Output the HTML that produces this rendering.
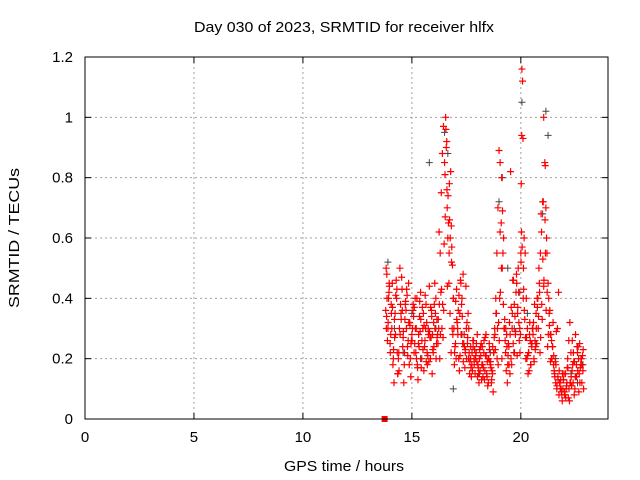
<!DOCTYPE html>
<html><head><meta charset="utf-8"><style>
body{margin:0;background:#fff}
svg{display:block;font-family:"Liberation Sans",sans-serif}
</style></head><body>
<svg id="chart" width="640" height="480" viewBox="0 0 640 480">
<rect width="640" height="480" fill="#fff"/>
<text x="344" y="32" font-size="15" text-anchor="middle" textLength="300" lengthAdjust="spacingAndGlyphs">Day 030 of 2023, SRMTID for receiver hlfx</text>
<g id="grid"></g>
<g id="ticks"></g>
<g id="black"></g>
<g id="red"></g>
<rect x="85" y="57" width="523" height="362" fill="none" stroke="#000" stroke-width="1"/>
<text x="344" y="471" font-size="15" text-anchor="middle" textLength="120" lengthAdjust="spacingAndGlyphs">GPS time / hours</text>
<text transform="translate(19,238) rotate(-90)" font-size="15" text-anchor="middle" textLength="140" lengthAdjust="spacingAndGlyphs">SRMTID / TECUs</text>
</svg>
<script>
const xTicks=[0,5,10,15,20];
const yTicks=[0,0.2,0.4,0.6,0.8,1,1.2];
const yTickLabels=["0","0.2","0.4","0.6","0.8","1","1.2"];
const redX=[13.8,13.85,13.9,13.95,14.0,14.05,14.1,14.15,14.2,14.25,14.3,14.35,14.4,14.45,14.5,14.55,14.6,14.65,14.7,14.75,14.8,14.85,14.9,14.95,15.0,15.05,15.1,15.15,15.2,15.25,15.3,15.35,15.4,15.45,15.5,15.55,15.6,15.65,15.7,15.75,15.8,15.85,15.9,15.95,16.0,16.05,16.1,16.15,16.2,16.25,16.3,16.35,16.4,16.45,16.5,16.55,16.6,16.65,16.7,16.75,16.8,16.85,16.9,16.95,17.0,17.05,17.1,17.15,17.2,17.25,17.3,17.35,17.4,17.45,17.5,17.55,17.6,17.65,17.7,17.75,17.8,17.85,17.9,17.95,18.0,18.05,18.1,18.15,18.2,18.25,18.3,18.35,18.4,18.45,18.5,18.55,18.6,18.65,18.7,18.75,18.8,18.85,18.9,18.95,19.0,19.05,19.1,19.15,19.2,19.25,19.3,19.35,19.4,19.45,19.5,19.55,19.6,19.65,19.7,19.75,19.8,19.85,19.9,19.95,20.0,20.02,20.05,20.08,20.1,20.15,20.2,20.25,20.3,20.35,20.4,20.45,20.5,20.55,20.6,20.65,20.7,20.75,20.8,20.85,20.9,20.95,21.0,21.05,21.1,21.15,21.2,21.25,21.3,21.35,21.4,21.45,21.5,21.55,21.6,21.65,21.7,21.75,21.8,21.85,21.9,21.95,22.0,22.05,22.1,22.15,22.2,22.25,22.3,22.35,22.4,22.45,22.5,22.55,22.6,22.65,22.7,22.75,22.8,22.85,
13.82,13.88,13.97,14.08,14.18,14.28,14.38,14.48,14.58,14.68,14.78,14.88,14.98,15.08,15.18,15.28,15.38,15.48,15.58,15.68,15.78,15.88,15.98,16.08,16.18,16.28,16.38,16.48,16.52,16.58,16.62,16.68,16.72,16.78,16.82,16.88,16.98,17.08,17.18,17.28,17.38,17.48,17.58,17.68,17.78,17.88,17.98,18.08,18.18,18.28,18.38,18.48,18.58,18.68,18.78,18.88,18.98,19.05,19.12,19.18,19.28,19.38,19.48,19.58,19.68,19.78,19.88,19.98,20.04,20.12,20.18,20.28,20.38,20.48,20.58,20.68,20.78,20.88,20.98,21.05,21.12,21.18,21.28,21.38,21.48,21.58,21.68,21.78,21.88,21.98,22.08,22.18,22.28,22.38,22.48,22.58,22.68,22.78,22.88,
13.84,13.93,14.03,14.13,14.23,14.33,14.43,14.53,14.63,14.73,14.83,14.93,15.03,15.13,15.23,15.33,15.43,15.53,15.63,15.73,15.83,15.93,16.03,16.13,16.23,16.33,16.43,16.53,16.63,16.73,16.83,16.93,17.03,17.13,17.23,17.33,17.43,17.53,17.63,17.73,17.83,17.93,18.03,18.13,18.23,18.33,18.43,18.53,18.63,18.73,18.83,18.93,19.03,19.13,19.23,19.33,19.43,19.53,19.63,19.73,19.83,19.93,20.03,20.13,20.23,20.33,20.43,20.53,20.63,20.73,20.83,20.93,21.03,21.13,21.23,21.33,21.43,21.53,21.63,21.73,21.83,21.93,22.03,22.13,22.23,22.33,22.43,22.53,22.63,22.73,22.83,
13.86,13.91,14.01,14.11,14.21,14.31,14.41,14.51,14.61,14.71,14.81,14.91,15.01,15.11,15.21,15.31,15.41,15.51,15.61,15.71,15.81,15.91,16.01,16.11,16.21,16.31,16.41,16.56,16.66,16.76,16.86,16.96,17.06,17.16,17.26,17.36,17.46,17.56,17.66,17.76,17.86,17.96,18.06,18.16,18.26,18.36,18.46,18.56,18.66,18.76,18.86,18.96,19.06,19.16,19.26,19.36,19.46,19.56,19.66,19.76,19.86,19.96,20.06,20.16,20.26,20.36,20.46,20.56,20.66,20.76,20.86,20.96,21.06,21.16,21.26,21.36,21.46,21.56,21.66,21.76,21.86,21.96,22.06,22.16,22.26,22.36,22.46,22.56,22.66,22.76,22.86,
13.83,13.96,14.06,14.16,14.26,14.36,14.46,14.56,14.66,14.76,14.86,14.96,15.06,15.16,15.26,15.36,15.46,15.56,15.66,15.76,15.86,15.96,16.06,16.16,16.26,16.36,16.46,16.61,16.71,16.81,16.91,17.01,17.11,17.21,17.31,17.41,17.51,17.61,17.71,17.81,17.91,18.01,18.11,18.21,18.31,18.41,18.51,18.61,18.71,18.81,18.91,19.01,19.11,19.21,19.31,19.41,19.51,19.61,19.71,19.81,19.91,20.01,20.11,20.21,20.31,20.41,20.51,20.61,20.71,20.81,20.91,21.01,21.11,21.21,21.31,21.41,21.51,21.61,21.71,21.81,21.91,22.01,22.11,22.21,22.31,22.41,22.51,22.61,22.71,22.81];
const redY=[0.36,0.48,0.3,0.42,0.25,0.38,0.45,0.2,0.33,0.28,0.4,0.15,0.22,0.5,0.35,0.43,0.27,0.18,0.38,0.3,0.24,0.45,0.32,0.14,0.28,0.36,0.22,0.4,0.3,0.18,0.25,0.34,0.42,0.2,0.3,0.16,0.26,0.38,0.22,0.3,0.44,0.2,0.36,0.28,0.32,0.45,0.4,0.33,0.25,0.62,0.55,0.75,0.88,0.97,0.85,1.0,0.92,0.6,0.45,0.35,0.22,0.3,0.4,0.18,0.25,0.43,0.3,0.2,0.35,0.45,0.4,0.48,0.28,0.22,0.3,0.25,0.2,0.15,0.24,0.18,0.26,0.2,0.15,0.22,0.28,0.17,0.2,0.24,0.13,0.18,0.22,0.16,0.28,0.14,0.2,0.25,0.18,0.12,0.15,0.22,0.3,0.4,0.55,0.7,0.89,0.85,0.65,0.5,0.38,0.3,0.22,0.28,0.18,0.24,0.15,0.2,0.3,0.25,0.38,0.28,0.48,0.35,0.42,0.3,0.55,0.78,1.16,1.12,0.93,0.6,0.55,0.4,0.3,0.22,0.28,0.18,0.24,0.3,0.2,0.26,0.35,0.4,0.3,0.45,0.55,0.62,0.72,1.0,0.85,0.7,0.55,0.45,0.35,0.28,0.2,0.24,0.18,0.15,0.12,0.1,0.14,0.08,0.12,0.1,0.06,0.13,0.09,0.15,0.11,0.2,0.26,0.32,0.22,0.16,0.12,0.08,0.14,0.18,0.22,0.2,0.25,0.18,0.12,0.16,
0.5,0.26,0.44,0.3,0.12,0.46,0.2,0.38,0.24,0.33,0.41,0.18,0.26,0.34,0.22,0.13,0.29,0.37,0.24,0.32,0.19,0.27,0.22,0.35,0.28,0.2,0.3,0.58,0.81,0.9,0.7,0.65,0.78,0.82,0.52,0.28,0.24,0.32,0.16,0.38,0.25,0.44,0.35,0.2,0.16,0.23,0.19,0.12,0.25,0.17,0.21,0.11,0.19,0.16,0.27,0.35,0.32,0.62,0.8,0.55,0.26,0.12,0.32,0.18,0.22,0.42,0.5,0.28,0.94,0.5,0.33,0.2,0.16,0.25,0.32,0.24,0.4,0.22,0.33,0.44,0.84,0.6,0.4,0.28,0.32,0.19,0.3,0.12,0.08,0.15,0.1,0.07,0.12,0.18,0.1,0.24,0.15,0.2,0.1,
0.34,0.4,0.28,0.18,0.35,0.22,0.3,0.47,0.12,0.36,0.26,0.2,0.3,0.25,0.4,0.24,0.17,0.35,0.3,0.21,0.27,0.15,0.38,0.25,0.3,0.42,0.27,0.67,0.44,0.66,0.57,0.3,0.2,0.36,0.46,0.25,0.17,0.32,0.22,0.14,0.26,0.21,0.18,0.16,0.24,0.13,0.15,0.2,0.17,0.09,0.23,0.3,0.4,0.2,0.3,0.16,0.25,0.82,0.46,0.34,0.21,0.26,0.62,0.43,0.2,0.15,0.26,0.3,0.38,0.25,0.5,0.68,0.72,0.55,0.24,0.36,0.2,0.16,0.29,0.42,0.13,0.1,0.08,0.17,0.06,0.11,0.19,0.14,0.24,0.17,0.21,
0.4,0.32,0.22,0.37,0.27,0.43,0.16,0.33,0.29,0.39,0.21,0.31,0.26,0.37,0.2,0.28,0.33,0.23,0.41,0.18,0.29,0.34,0.24,0.2,0.33,0.28,0.38,0.96,0.74,0.6,0.51,0.22,0.33,0.41,0.28,0.19,0.23,0.27,0.19,0.22,0.18,0.25,0.15,0.21,0.14,0.27,0.19,0.23,0.13,0.22,0.35,0.18,0.42,0.69,0.33,0.24,0.18,0.37,0.46,0.29,0.37,0.22,0.57,0.36,0.27,0.22,0.18,0.28,0.23,0.37,0.42,0.38,0.46,0.36,0.28,0.19,0.24,0.14,0.11,0.16,0.09,0.13,0.07,0.17,0.12,0.26,0.19,0.14,0.09,0.2,0.23,
0.3,0.45,0.35,0.23,0.41,0.15,0.28,0.36,0.22,0.43,0.32,0.25,0.38,0.3,0.17,0.39,0.26,0.31,0.19,0.28,0.37,0.23,0.3,0.27,0.38,0.43,0.36,0.76,0.55,0.64,0.4,0.39,0.28,0.21,0.34,0.24,0.2,0.3,0.17,0.24,0.2,0.14,0.23,0.18,0.26,0.21,0.12,0.19,0.24,0.28,0.2,0.26,0.5,0.6,0.3,0.21,0.28,0.35,0.22,0.45,0.32,0.52,0.4,0.27,0.21,0.32,0.25,0.19,0.3,0.34,0.27,0.53,0.66,0.42,0.31,0.26,0.21,0.18,0.13,0.1,0.15,0.08,0.12,0.1,0.14,0.22,0.28,0.16,0.12,0.18];
const blackX=[13.9,14.2,14.6,15.0,15.4,15.8,16.1,16.5,16.65,16.9,17.3,17.7,18.1,18.6,19.0,19.15,19.4,19.7,19.95,20.05,20.3,20.7,21.0,21.15,21.25,21.6,22.0,22.3,22.6,22.85];
const blackY=[0.52,0.3,0.22,0.35,0.2,0.85,0.3,0.95,0.88,0.1,0.28,0.2,0.15,0.22,0.72,0.8,0.5,0.3,0.42,1.05,0.35,0.25,0.68,1.02,0.94,0.2,0.08,0.15,0.12,0.18];
const squareX=[13.75];
const squareY=[0];
const NS="http://www.w3.org/2000/svg";
const X0=85,X1=608,XMAX=24,Y0=419,Y1=57,YMAX=1.2;
function sx(v){return X0+(X1-X0)*v/XMAX;}
function sy(v){return Y0-(Y0-Y1)*v/YMAX;}
function mk(tag,attrs,parent){const e=document.createElementNS(NS,tag);for(const k in attrs)e.setAttribute(k,attrs[k]);parent.appendChild(e);return e;}
const grid=document.getElementById('grid'),ticks=document.getElementById('ticks');
xTicks.forEach((t,i)=>{
  const x=sx(t);
  if(t>0){const g=mk('line',{x1:x,x2:x,y1:Y1,y2:Y0,stroke:'#a0a0a0','stroke-dasharray':'2,3'},grid);
  
  }
  mk('line',{x1:x,x2:x,y1:Y0,y2:Y0-6,stroke:'#000'},ticks);
  mk('line',{x1:x,x2:x,y1:Y1,y2:Y1+6,stroke:'#000'},ticks);
  const l=mk('text',{x:x,y:442,'font-size':15,'text-anchor':'middle'},ticks);
  l.textContent=String(t);
  
  
});
yTicks.forEach((t,i)=>{
  const y=sy(t);
  if(t>0&&t<YMAX){const g=mk('line',{x1:X0,x2:X1,y1:y,y2:y,stroke:'#a0a0a0','stroke-dasharray':'2,3'},grid);
  
  }
  mk('line',{x1:X0,x2:X0+6,y1:y,y2:y,stroke:'#000'},ticks);
  mk('line',{x1:X1,x2:X1-6,y1:y,y2:y,stroke:'#000'},ticks);
  const l=mk('text',{x:73,y:y+5,'font-size':15,'text-anchor':'end'},ticks);
  l.textContent=yTickLabels[i];
  
  
});
function plus(g,x,y,color,name,w){
  const p=mk('path',{d:`M${x-3.5},${y}h7M${x},${y-3.5}v7`,stroke:color,'stroke-width':w,fill:'none'},g);
  
  
}
const gb=document.getElementById('black'),gr=document.getElementById('red');
blackX.forEach((v,i)=>plus(gb,sx(v),sy(blackY[i]),'#444','black-point',1));
redX.forEach((v,i)=>plus(gr,sx(v),sy(redY[i]),'#f00','red-point',1.2));
squareX.forEach((v,i)=>{
  const r=mk('rect',{x:sx(v)-3,y:sy(squareY[i])-3,width:6,height:6,fill:'#f00'},gr);
  
  
});
</script>
</body></html>
